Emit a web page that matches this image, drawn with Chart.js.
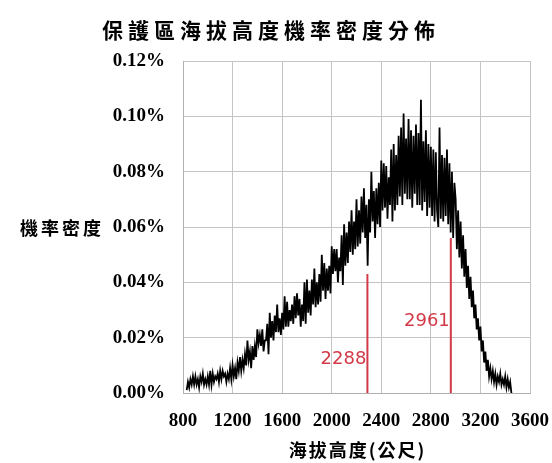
<!DOCTYPE html>
<html>
<head>
<meta charset="utf-8">
<script src="https://cdn.jsdelivr.net/npm/chart.js@4.4.0/dist/chart.umd.min.js"></script>
<style>
html, body { margin: 0; background: #fff; }
#wrap { width: 552px; height: 463px; }
</style>
</head>
<body>
<div id="wrap"><canvas id="myChart"></canvas></div>
<script>
// elevation (m) of the first sample and the sampling step
var startElev = 830;
var stepElev = 10;

// probability density in %, every 10 m
var density = [
  0.001,0.004,0.002,0.005,0.003,0.006,0.003,
  0.006,0.003,0.005,0.002,0.006,0.004,0.007,0.003,0.005,0.003,
  0.006,0.003,0.008,0.003,0.007,0.004,0.006,0.005,0.007,0.004,
  0.008,0.005,0.008,0.006,0.007,0.004,0.007,0.005,0.009,0.005,
  0.010,0.006,0.009,0.005,0.011,0.008,0.013,0.008,0.012,0.009,
  0.014,0.010,0.019,0.012,0.015,0.009,0.017,0.012,0.017,0.013,
  0.023,0.018,0.021,0.017,0.023,0.015,0.019,0.019,0.025,0.014,
  0.029,0.020,0.026,0.019,0.028,0.022,0.032,0.022,0.027,0.021,
  0.029,0.023,0.035,0.024,0.033,0.024,0.030,0.026,0.032,0.025,
  0.035,0.027,0.036,0.028,0.034,0.024,0.032,0.026,0.040,0.025,
  0.041,0.029,0.037,0.028,0.041,0.032,0.045,0.031,0.040,0.032,
  0.043,0.033,0.050,0.037,0.047,0.034,0.045,0.037,0.046,0.036,
  0.053,0.043,0.052,0.044,0.052,0.040,0.049,0.044,0.057,0.039,
  0.061,0.046,0.058,0.047,0.062,0.051,0.066,0.050,0.062,0.052,
  0.070,0.053,0.066,0.054,0.071,0.058,0.074,0.056,0.068,0.046,
  0.070,0.058,0.080,0.062,0.073,0.056,0.074,0.061,0.076,0.060,
  0.084,0.066,0.083,0.067,0.082,0.063,0.078,0.068,0.088,0.062,
  0.090,0.066,0.086,0.068,0.093,0.071,0.096,0.068,0.101,0.072,
  0.092,0.070,0.099,0.070,0.095,0.067,0.093,0.072,0.097,0.068,
  0.094,0.068,0.106,0.066,0.091,0.069,0.095,0.064,0.090,0.067,
  0.089,0.064,0.088,0.062,0.087,0.066,0.060,0.096,0.063,0.086,
  0.062,0.085,0.064,0.088,0.061,0.083,0.058,0.080,0.056,0.076,
  0.070,0.052,0.066,0.049,0.062,0.045,0.057,0.042,0.052,0.038,
  0.046,0.034,0.042,0.031,0.037,0.027,0.032,0.023,0.027,0.019,
  0.024,0.015,0.019,0.011,0.015,0.008,0.012,0.006,0.009,0.005,
  0.008,0.004,0.007,0.003,0.006,0.004,0.007,0.003,0.005,0.003,
  0.006,0.002,0.005,0.002,0.004,0.000
];

// red marker lines
var markElev = [2288, 2961];
var markTop = [0.043, 0.056];
var markLabelY = [0.012, 0.026];

var xTicks = [800, 1200, 1600, 2000, 2400, 2800, 3200, 3600];
var yTicks = [0, 0.02, 0.04, 0.06, 0.08, 0.10, 0.12];

var titleText = '保護區海拔高度機率密度分佈';
var yTitle = '機率密度';
var xTitle = '海拔高度(公尺)';

var red = '#d23a48';

var curve = density.map(function (v, i) {
  return { x: startElev + i * stepElev, y: v };
});

var datasets = [{
  data: curve,
  borderColor: '#000',
  borderWidth: 1.8,
  pointRadius: 0,
  tension: 0
}];
markElev.forEach(function (e, i) {
  datasets.push({
    data: [{ x: e, y: 0 }, { x: e, y: markTop[i] }],
    borderColor: red,
    borderWidth: 2,
    pointRadius: 0
  });
});

var textPlugin = {
  id: 'texts',
  afterDraw: function (chart) {
    var ctx = chart.ctx;
    var xs = chart.scales.x, ys = chart.scales.y;
    ctx.save();
    ctx.textBaseline = 'middle';

    ctx.fillStyle = red;
    ctx.textAlign = 'right';
    ctx.font = '18px "DejaVu Sans"';
    markElev.forEach(function (e, i) {
      ctx.fillText(String(e), xs.getPixelForValue(e) - 1, ys.getPixelForValue(markLabelY[i]));
    });

    ctx.fillStyle = '#000';
    ctx.textAlign = 'center';
    ctx.letterSpacing = '5px';
    ctx.font = 'bold 21px "Noto Sans CJK TC"';
    ctx.fillText(titleText, 271, 30);

    ctx.letterSpacing = '3px';
    ctx.font = 'bold 18px "Noto Sans CJK TC"';
    ctx.fillText(yTitle, 62, ys.getPixelForValue(0.06) + 1);

    ctx.letterSpacing = '2px';
    ctx.fillText(xTitle, (xs.left + xs.right) / 2 + 1, 450);
    ctx.restore();
  }
};

var tickFont = { family: '"Liberation Serif"', size: 19, weight: 'bold' };

new Chart(document.getElementById('myChart'), {
  type: 'line',
  data: { datasets: datasets },
  plugins: [textPlugin],
  options: {
    responsive: true,
    maintainAspectRatio: false,
    animation: false,
    layout: { padding: { top: 61, right: 22, left: 0, bottom: 0 } },
    plugins: { legend: { display: false }, tooltip: { enabled: false } },
    scales: {
      x: {
        type: 'linear',
        min: xTicks[0],
        max: xTicks[xTicks.length - 1],
        afterBuildTicks: function (s) { s.ticks = xTicks.map(function (v) { return { value: v }; }); },
        afterFit: function (s) { s.height = 70; s.paddingRight = 0; s.paddingLeft = 0; },
        grid: { color: '#c4c4c4', drawTicks: false },
        border: { color: '#b0b0b0' },
        ticks: {
          color: '#000', font: tickFont, padding: 17, maxRotation: 0,
          callback: function (v) { return String(v); }
        }
      },
      y: {
        min: yTicks[0],
        max: yTicks[yTicks.length - 1],
        afterBuildTicks: function (s) { s.ticks = yTicks.map(function (v) { return { value: v }; }); },
        afterFit: function (s) { s.width = 183; },
        grid: { color: '#c4c4c4', drawTicks: false },
        border: { color: '#b0b0b0' },
        ticks: {
          color: '#000', font: tickFont, padding: 18,
          callback: function (v) { return Number(v).toFixed(2) + '%'; }
        }
      }
    }
  }
});
</script>
</body>
</html>
